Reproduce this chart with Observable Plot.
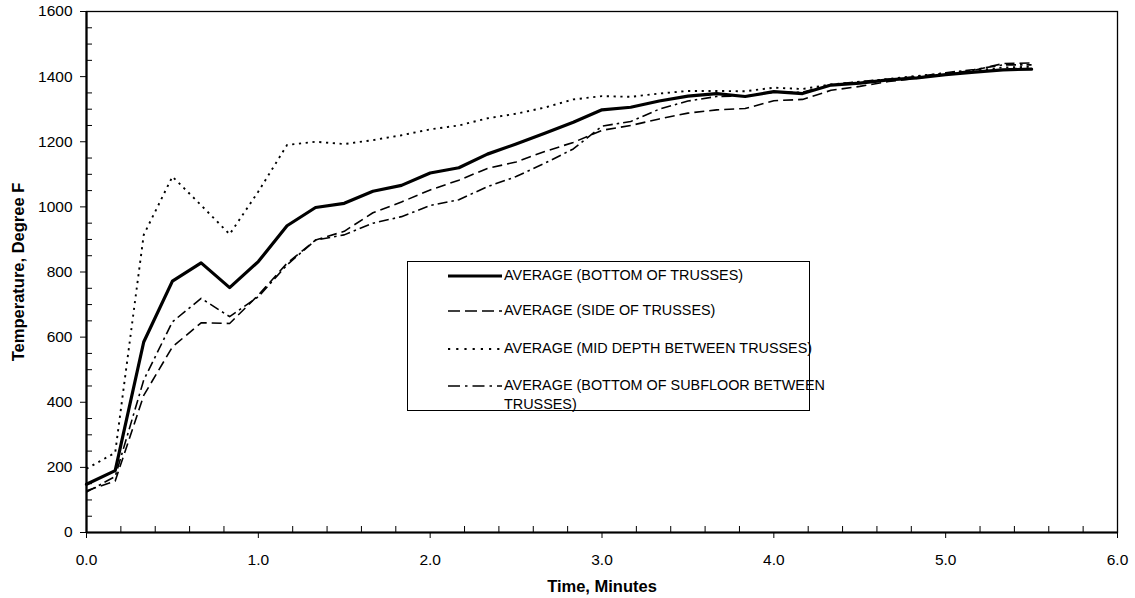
<!DOCTYPE html>
<html>
<head>
<meta charset="utf-8">
<script src="https://cdn.jsdelivr.net/npm/d3@7"></script>
<script src="https://cdn.jsdelivr.net/npm/@observablehq/plot@0.6"></script>
<style>
  html, body { margin: 0; padding: 0; background: #fff; }
  body { font-family: "Liberation Sans", Arial, sans-serif; }
  #wrap { position: relative; width: 1135px; height: 598px; }
  #legend {
    position: absolute; left: 407px; top: 261px; width: 403px; height: 150px;
    box-sizing: border-box; border: 1px solid #000; background: #fff;
    font-size: 14.4px; color: #000;
  }
  .row { position: absolute; left: 40px; display: flex; align-items: flex-start; line-height: 19px; white-space: nowrap; }
  .row svg { flex: none; margin-top: 4px; }
  .row span { margin-left: 2px; }
</style>
</head>
<body>
<div id="wrap"></div>
<script>
// Time, minutes
const times = [0, 0.167, 0.333, 0.5, 0.667, 0.833, 1.0, 1.167, 1.333, 1.5, 1.667, 1.833,
  2.0, 2.167, 2.333, 2.5, 2.667, 2.833, 3.0, 3.167, 3.333, 3.5, 3.667, 3.833,
  4.0, 4.167, 4.333, 4.5, 4.667, 4.833, 5.0, 5.167, 5.333, 5.5];

// Temperature, Degree F
const bottomOfTrusses = [148, 190, 585, 772, 828, 752, 832, 942, 998, 1011, 1048, 1066,
  1104, 1120, 1162, 1193, 1226, 1260, 1298, 1306, 1325, 1340, 1348, 1339,
  1354, 1348, 1374, 1380, 1390, 1396, 1406, 1414, 1421, 1423];
const sideOfTrusses = [128, 158, 421, 570, 644, 642, 729, 827, 898, 925, 982, 1015,
  1052, 1082, 1118, 1138, 1170, 1198, 1235, 1250, 1270, 1288, 1298, 1302,
  1326, 1330, 1358, 1370, 1385, 1395, 1408, 1420, 1440, 1442];
const midDepth = [196, 245, 914, 1093, 1005, 916, 1047, 1190, 1200, 1193, 1205, 1220,
  1238, 1250, 1272, 1286, 1305, 1330, 1340, 1338, 1348, 1356, 1356, 1355,
  1366, 1362, 1376, 1383, 1393, 1402, 1410, 1418, 1428, 1430];
const bottomOfSubfloor = [124, 172, 468, 647, 719, 663, 724, 822, 898, 914, 950, 970,
  1004, 1022, 1062, 1093, 1134, 1178, 1248, 1262, 1300, 1325, 1339, 1340,
  1352, 1352, 1375, 1385, 1392, 1400, 1412, 1422, 1436, 1436];

const seriesNames = [
  "AVERAGE (BOTTOM OF TRUSSES)",
  "AVERAGE (SIDE OF TRUSSES)",
  "AVERAGE (MID DEPTH BETWEEN TRUSSES)",
  "AVERAGE (BOTTOM OF SUBFLOOR BETWEEN TRUSSES)"
];
const seriesValues = [bottomOfTrusses, sideOfTrusses, midDepth, bottomOfSubfloor];

const xTicks = [0, 1, 2, 3, 4, 5, 6];
const xMinorTicks = [0.2, 0.4, 0.6, 0.8, 1.2, 1.4, 1.6, 1.8, 2.2, 2.4, 2.6, 2.8, 3.2, 3.4, 3.6, 3.8, 4.2, 4.4, 4.6, 4.8, 5.2, 5.4, 5.6, 5.8];
const yTicks = [0, 200, 400, 600, 800, 1000, 1200, 1400, 1600];
const yMinorTicks = [50, 100, 150, 250, 300, 350, 450, 500, 550, 650, 700, 750, 850, 900, 950, 1050, 1100, 1150, 1250, 1300, 1350, 1450, 1500, 1550];
const xTitle = "Time, Minutes";
const yTitle = "Temperature, Degree F";

// styles (not data)
const styles = [
  {strokeWidth: 3.2, strokeDasharray: null},
  {strokeWidth: 1.6, strokeDasharray: "10,5"},
  {strokeWidth: 1.9, strokeDasharray: "2.2,4.6"},
  {strokeWidth: 1.6, strokeDasharray: "10,4,2.5,4"}
];

const rows = [];
seriesNames.forEach((s, i) => seriesValues[i].forEach((v, j) => rows.push({s, t: times[j], v})));

const W = 1135, H = 598, ML = 86, MR = 18, MT = 11, MB = 66;
const frameW = W - ML - MR, frameH = H - MT - MB;

const plot = Plot.plot({
  width: W, height: H,
  marginLeft: ML, marginRight: MR, marginTop: MT, marginBottom: MB,
  x: {domain: [0, 6]},
  y: {domain: [0, 1600]},
  style: {fontFamily: "'Liberation Sans', Arial, sans-serif", fontSize: "15px", color: "#000", background: "#fff"},
  marks: [
    Plot.frame({stroke: "#000", strokeWidth: 1.3}),
    Plot.ruleY(yMinorTicks, {insetRight: frameW - 6, stroke: "#000", strokeWidth: 1}),
    Plot.ruleX(xMinorTicks, {insetTop: frameH - 6, stroke: "#000", strokeWidth: 1}),
    Plot.axisY({ticks: yTicks, tickSize: 6, tickPadding: 8, label: null, tickFormat: d => String(d), fontSize: 15.5}),
    Plot.axisX({ticks: xTicks, tickSize: 6, tickPadding: 15, label: null, tickFormat: d3.format(".1f"), fontSize: 15.5}),
    ...seriesNames.map((name, i) => Plot.line(rows.filter(r => r.s === name), {
      x: "t", y: "v", stroke: "#000",
      strokeWidth: styles[i].strokeWidth,
      strokeDasharray: styles[i].strokeDasharray,
      strokeLinejoin: "round", strokeLinecap: i === 0 ? "round" : "butt"
    })),
    Plot.ruleX([0], {stroke: "#000", strokeWidth: 2.2}),
    Plot.ruleY([0], {stroke: "#000", strokeWidth: 2.2}),
    Plot.text([xTitle], {frameAnchor: "bottom", dy: 59, fontWeight: "bold", fontSize: 16.5}),
    Plot.text([yTitle], {frameAnchor: "left", dx: -68, rotate: -90, textAnchor: "middle", fontWeight: "bold", fontSize: 16.5})
  ]
});

const wrap = document.getElementById("wrap");
wrap.appendChild(plot);

// Legend (inside plot area, as in the reference)
const legend = document.createElement("div");
legend.id = "legend";
const rowTops = [4, 39, 77, 114];
const legendLabels = [
  seriesNames[0], seriesNames[1], seriesNames[2],
  "AVERAGE (BOTTOM OF SUBFLOOR BETWEEN<br>TRUSSES)"
];
const sampleDash = [null, "12,5", "2.2,6", "12,5,2.5,5"];
legendLabels.forEach((lab, i) => {
  const r = document.createElement("div");
  r.className = "row";
  r.style.top = rowTops[i] + "px";
  const dash = sampleDash[i] ? `stroke-dasharray="${sampleDash[i]}"` : "";
  r.innerHTML = `<svg width="54" height="12"><line x1="0" y1="6" x2="54" y2="6" stroke="#000" stroke-width="${styles[i].strokeWidth}" ${dash}/></svg><span>${lab}</span>`;
  legend.appendChild(r);
});
wrap.appendChild(legend);
</script>
</body>
</html>
